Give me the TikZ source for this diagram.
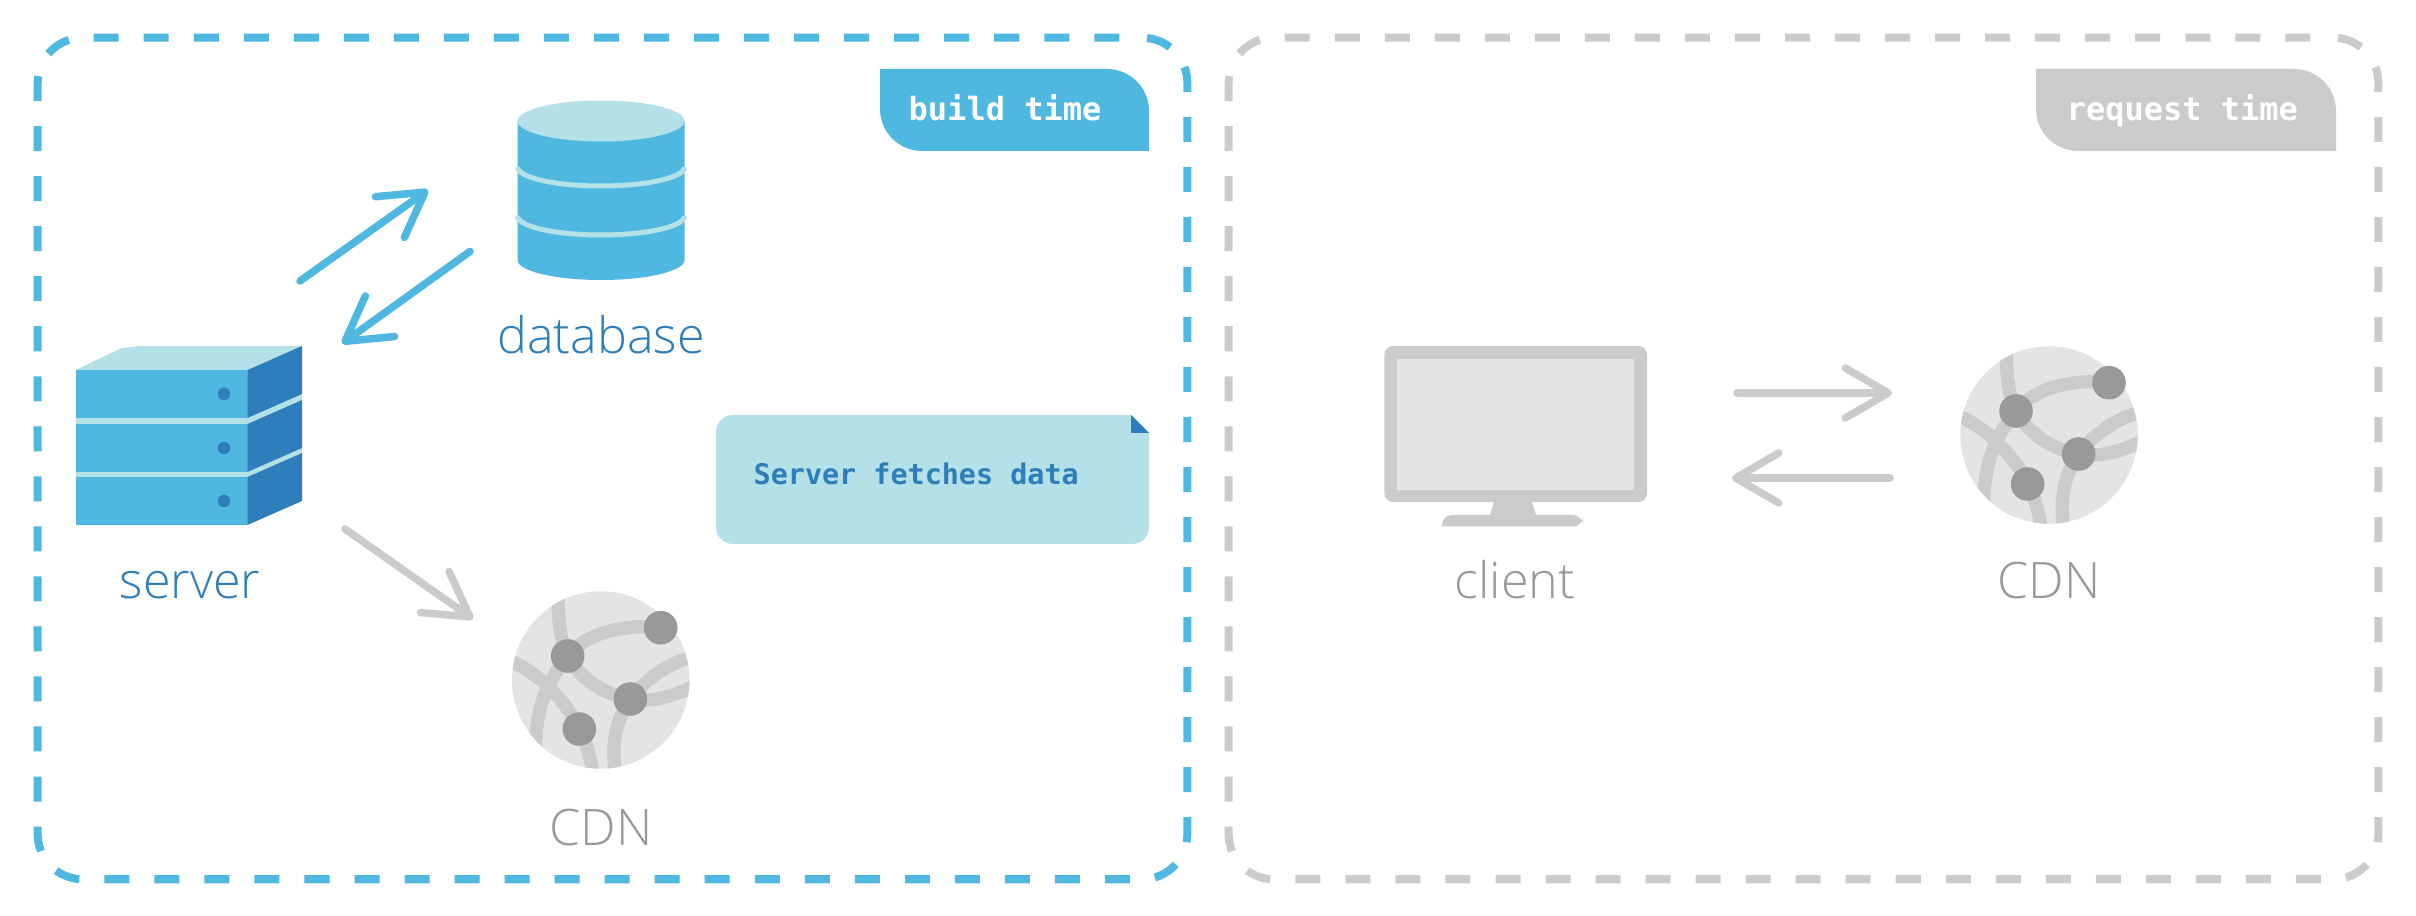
\documentclass[tikz,border=0pt]{standalone}
\usepackage{xcolor}
\usepackage{fontspec}
\usetikzlibrary{positioning,arrows.meta}
\newfontfamily\labelfont{Open Sans Light}
\newfontfamily\codefont{DejaVu Sans Mono Bold}
\definecolor{ssgSky}{HTML}{4FB8E0}
\definecolor{ssgPale}{HTML}{B4E0E8}
\definecolor{ssgDeep}{HTML}{2E7EBB}
\definecolor{ssgGrey}{HTML}{CBCBCA}
\definecolor{ssgMist}{HTML}{E4E4E3}
\definecolor{ssgDot}{HTML}{999999}
\tikzset{
  framebox/.style={draw=#1,line width=.08cm,rounded corners=.45cm,dash pattern=on .25cm off .25cm,dash phase=.27cm,minimum width=11.49cm,minimum height=8.41cm,inner sep=0pt},
  iconbox/.style={minimum width=#1,inner sep=0pt},
  bigtext/.style={font=\labelfont\fontsize{14.3}{16}\selectfont,anchor=base,inner sep=0pt},
  tagtext/.style={font=\codefont\fontsize{9.1}{11}\selectfont,text=white,anchor=base west,inner sep=0pt},
  flow/.style={line width=.075cm,line cap=round,draw=#1,-{Straight Barb[length=.43cm,width=.5cm,round]}},
  cdnmap/.pic={
    \begin{scope}
      \clip (0,0) circle [radius=88.7];
      \begin{scope}[draw=ssgGrey,line width=.133cm]
        \draw (-42,-95) .. controls (-44,-60) and (-40,-40) .. (-33,-24) .. controls (-20,0) and (5,15) .. (30,19) .. controls (50,22) and (70,18) .. (95,5);
        \draw (-33,-24) .. controls (-18,-42) and (10,-56) .. (60,-53);
        \draw (-33,-24) .. controls (-50,-3) and (-66,25) .. (-65,70);
        \draw (-95,-21) .. controls (-65,-10) and (-35,20) .. (-21,49) .. controls (-15,62) and (-10,75) .. (-8,95);
        \draw (95,-24) .. controls (70,-18) and (45,-2) .. (30,19) .. controls (15,40) and (10,65) .. (15,95);
      \end{scope}
    \end{scope}
    \fill[ssgDot] (-33,-24) circle [radius=16.8];
    \fill[ssgDot] (60,-52.3) circle [radius=16.8];
    \fill[ssgDot] (29.6,19) circle [radius=16.8];
    \fill[ssgDot] (-21.4,49) circle [radius=16.8];
  }
}
\begin{document}
\begin{tikzpicture}[x=.01cm,y=-.01cm]
  \useasboundingbox (0,0) rectangle (2416,916);

  % frames
  \node[framebox=ssgSky] (buildframe) at (612.5,458.5) {};
  \node[framebox=ssgGrey] (requestframe) at (1803.5,458.5) {};

  % tags
  \fill[ssgSky] (880,69) [rounded corners=.42cm] -- (1149,69) [sharp corners] -- (1149,151) [rounded corners=.42cm] -- (880,151) [sharp corners] -- cycle;
  \node[tagtext] (buildtag) at (908,121) {build time};
  \fill[ssgGrey] (2036,69) [rounded corners=.42cm] -- (2336,69) [sharp corners] -- (2336,151) [rounded corners=.42cm] -- (2036,151) [sharp corners] -- cycle;
  \node[tagtext] (requesttag) at (2066,121) {request time};

  % note
  \fill[ssgPale,rounded corners=.17cm] (716,480) -- (716,415) [sharp corners] -- (1131,415) -- (1149,433) [rounded corners=.17cm] -- (1149,544) -- (716,544) -- cycle;
  \fill[ssgDeep] (1131,415) -- (1149,433) -- (1131,433) -- cycle;
  \node[font=\codefont\fontsize{8.08}{10}\selectfont,text=ssgDeep,anchor=base west,inner sep=0pt] (notetext) at (753,484.5) {Server fetches data};

  % database
  \node[iconbox=1.67cm,minimum height=1.8cm] (database) at (601,190) {};
  \fill[ssgSky] (517.5,121) -- (517.5,260) arc[start angle=180,end angle=0,x radius=83.5,y radius=20] -- (684.5,121) -- cycle;
  \fill[ssgPale] (601,121) circle [x radius=83.5,y radius=20.5];
  \draw[ssgPale,line width=.05cm] (517.5,167) arc[start angle=180,end angle=0,x radius=83.5,y radius=19];
  \draw[ssgPale,line width=.05cm] (517.5,216) arc[start angle=180,end angle=0,x radius=83.5,y radius=19];
  \node[bigtext,text=ssgDeep] (databaselabel) at (601,354) {database};

  % server
  \node[iconbox=2.27cm,minimum height=1.79cm] (server) at (189,435.5) {};
  \fill[ssgPale] (75.5,370) -- (122,348) -- (140,346) -- (302,346) -- (247.5,370) -- cycle;
  \fill[ssgPale] (75.5,418) -- (247.5,418) -- (302,394) -- (302,400) -- (247.5,424) -- (75.5,424) -- cycle;
  \fill[ssgPale] (75.5,472) -- (247.5,472) -- (302,448) -- (302,453) -- (247.5,477) -- (75.5,477) -- cycle;
  \foreach \slabtop in {370,424,477} {
    \fill[ssgSky] (75.5,\slabtop) rectangle (247.5,\slabtop+48);
    \fill[ssgDeep] (247.5,\slabtop) -- (302,\slabtop-24) -- (302,\slabtop+24) -- (247.5,\slabtop+48) -- cycle;
    \fill[ssgDeep] (224,\slabtop+24) circle [radius=6.3];
  }
  \node[bigtext,text=ssgDeep] (serverlabel) at (190,599) {server};

  % left cdn
  \node[circle,fill=ssgMist,minimum size=1.774cm,inner sep=0pt] (cdnbuild) at (600.7,680) {};
  \pic at (cdnbuild.center) {cdnmap};
  \node[bigtext,text=ssgDot] (cdnbuildlabel) at (601,845) {CDN};

  % client
  \node[fill=ssgGrey,rounded corners=.09cm,minimum width=2.625cm,minimum height=1.56cm,inner sep=0pt] (client) at (1515.7,424) {};
  \fill[ssgMist] (1396.5,358.7) rectangle (1634,490);
  \fill[ssgGrey] (1494,502) -- (1532,502) -- (1536,515) -- (1490,515) -- cycle;
  \fill[ssgGrey,rounded corners=.1cm] (1442,526.5) -- (1442,515) -- (1583,515) -- (1583,526.5) [sharp corners] -- cycle;
  \node[bigtext,text=ssgDot] (clientlabel) at (1515,599) {client};

  % right cdn
  \node[circle,fill=ssgMist,minimum size=1.774cm,inner sep=0pt] (cdnrequest) at (2049,435) {};
  \pic at (cdnrequest.center) {cdnmap};
  \node[bigtext,text=ssgDot] (cdnrequestlabel) at (2049,599) {CDN};

  % arrow ends
  \coordinate (srvup) at (300,281);
  \coordinate (dbin) at (428,190);
  \coordinate (dbout) at (470,251.5);
  \coordinate (srvin) at (342,343.5);
  \coordinate (srvout) at (345,529);
  \coordinate (cdnin) at (473,619);
  \coordinate (clientout) at (1737,393);
  \coordinate (cdnreqin) at (1892,393);
  \coordinate (cdnreqout) at (1890,478);
  \coordinate (clientin) at (1732,478);
  \draw[flow=ssgSky] (srvup) -- (dbin);
  \draw[flow=ssgSky] (dbout) -- (srvin);
  \draw[flow=ssgGrey] (srvout) -- (cdnin);
  \draw[flow=ssgGrey] (clientout) -- (cdnreqin);
  \draw[flow=ssgGrey] (cdnreqout) -- (clientin);
\end{tikzpicture}
\end{document}
